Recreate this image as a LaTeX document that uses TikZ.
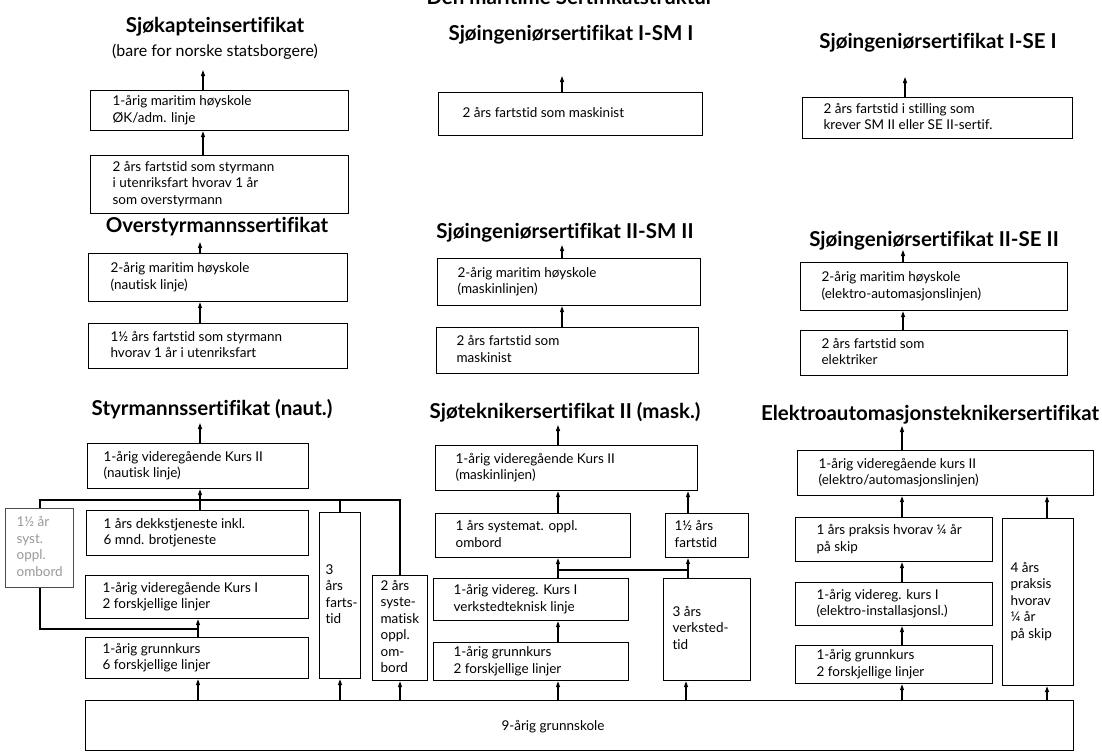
\documentclass[tikz,border=0pt]{standalone}
\usepackage{fontspec}
\setmainfont{Lato}[Ligatures={NoCommon}]
\usetikzlibrary{arrows.meta,calc}
\tikzset{
  box/.style={draw, line width=1.2pt, rectangle, inner xsep=0pt, inner ysep=0pt,
    font=\fontsize{13.5}{16.5}\selectfont},
  grbox/.style={box, draw=black!70, text=black!40},
  title/.style={font=\fontsize{20.5}{22}\selectfont\bfseries, anchor=base, inner sep=0pt},
  subtitle/.style={font=\fontsize{16}{18}\selectfont, anchor=base, inner sep=0pt},
  plain/.style={font=\fontsize{13.5}{16}\selectfont, inner sep=0pt},
  conn/.style={line width=1.2pt},
  arr/.style={conn, -{Triangle[length=6pt,width=4pt]}}
}
% [pad]{name}{x1}{y1}{x2}{y2}{text}
\newcommand\mybox[7][18]{%
  \pgfmathsetmacro\bw{#5-#3}\pgfmathsetmacro\bh{#6-#4}%
  \node[box, minimum width=\bw pt, minimum height=\bh pt, anchor=north west]
    (#2) at (#3pt,-#4pt)
    {\makebox[\bw pt][l]{\hspace*{#1pt}\begin{tabular}{@{}l@{}}#7\end{tabular}}};}
\begin{document}
\begin{tikzpicture}
\useasboundingbox (0,0) rectangle (1102pt,-753pt);
\fill[white] (0,0) rectangle (1102pt,-753pt);

% x positions of connectors
\coordinate (xa) at (203pt,0);
\coordinate (xb) at (200pt,0);
\coordinate (xc) at (198pt,0);
\coordinate (x40) at (40pt,0);
\coordinate (x340) at (340pt,0);
\coordinate (x400) at (400pt,0);
\coordinate (xm) at (562pt,0);
\coordinate (xn) at (558pt,0);
\coordinate (xo) at (688pt,0);
\coordinate (xp) at (686pt,0);
\coordinate (xr) at (905pt,0);
\coordinate (xs) at (903pt,0);
\coordinate (xt) at (902pt,0);
\coordinate (xu) at (1047pt,0);
\coordinate (hy) at (0,-500pt);
\coordinate (gy) at (0,-629pt);
\coordinate (my) at (0,-570pt);

% titles
\node[title] (top) at (570pt,-4pt) {Den maritime Sertifikatstruktur};
\node[title] (t1) at (215pt,-32pt) {Sjøkapteinsertifikat};
\node[subtitle] (t1b) at (215pt,-56pt) {(bare for norske statsborgere)};
\node[title] (t2) at (217pt,-232pt) {Overstyrmannssertifikat};
\node[title] (t3) at (212pt,-415pt) {Styrmannssertifikat (naut.)};
\node[title] (t4) at (571pt,-40pt) {Sjøingeniørsertifikat I-SM I};
\node[title] (t5) at (565pt,-238pt) {Sjøingeniørsertifikat II-SM II};
\node[title] (t6) at (565pt,-418pt) {Sjøteknikersertifikat II (mask.)};
\node[title] (t7) at (938pt,-48pt) {Sjøingeniørsertifikat I-SE I};
\node[title] (t8) at (934pt,-246pt) {Sjøingeniørsertifikat II-SE II};
\node[title] (t9) at (930pt,-420pt) {Elektroautomasjonsteknikersertifikat};

% left column
\mybox[22]{L1}{90}{90}{348}{130}{1-årig maritim høyskole\\ØK/adm. linje}
\mybox[22]{L2}{90}{155}{348}{213}{2 års fartstid som styrmann\\i utenriksfart hvorav 1 år\\som overstyrmann}
\mybox[22]{L3}{88}{253}{347}{301}{2-årig maritim høyskole\\(nautisk linje)}
\mybox[22]{L4}{88}{323}{347}{368}{1½ års fartstid som styrmann\\hvorav 1 år i utenriksfart}
\mybox[16]{L5}{87}{443}{308}{488}{1-årig videregående Kurs II\\(nautisk linje)}
\mybox[17]{L6}{86}{510}{308}{555}{1 års dekkstjeneste inkl.\\6 mnd. brotjeneste}
\mybox[17]{L7}{85}{575}{308}{618}{1-årig videregående Kurs I\\2 forskjellige linjer}
\mybox[17]{L8}{85}{637}{308}{678}{1-årig grunnkurs\\6 forskjellige linjer}
\node[grbox, minimum width=68pt, minimum height=79pt, anchor=north west]
  (L9) at (5pt,-508pt)
  {\makebox[68pt][l]{\hspace*{11pt}\begin{tabular}{@{}l@{}}1½ år\\syst.\\oppl.\\ombord\end{tabular}}};
\mybox[6]{L10}{319}{512}{360}{678}{3\\års\\farts-\\tid}
\mybox[8]{L11}{372}{575}{427}{680}{2 års\\syste-\\matisk\\oppl.\\om-\\bord}

% middle column
\mybox[24]{M1}{438}{92}{702}{135}{2 års fartstid som maskinist}
\mybox[20]{M2}{437}{258}{700}{305}{2-årig maritim høyskole\\(maskinlinjen)}
\mybox[20]{M3}{436}{327}{698}{373}{2 års fartstid som\\maskinist}
\mybox[20]{M4}{435}{445}{697}{490}{1-årig videregående Kurs II\\(maskinlinjen)}
\mybox[20]{M5}{435}{513}{630}{557}{1 års systemat. oppl.\\ombord}
\mybox[9]{M6}{665}{513}{748}{557}{1½ års\\fartstid}
\mybox[20]{M7}{433}{578}{628}{620}{1-årig videreg. Kurs I\\verkstedteknisk linje}
\mybox[20]{M8}{433}{642}{628}{680}{1-årig grunnkurs\\2 forskjellige linjer}
\mybox[9]{M9}{663}{578}{750}{680}{3 års\\verksted-\\tid}

% right column
\mybox[21]{R1}{802}{97}{1072}{138}{2 års fartstid i stilling som\\krever SM II eller SE II-sertif.}
\mybox[21]{R2}{800}{262}{1067}{310}{2-årig maritim høyskole\\(elektro-automasjonslinjen)}
\mybox[21]{R3}{800}{330}{1067}{375}{2 års fartstid som\\elektriker}
\mybox[21]{R4}{797}{450}{1093}{495}{1-årig videregående kurs II\\(elektro/automasjonslinjen)}
\mybox[21]{R5}{795}{517}{992}{561}{1 års praksis hvorav ¼ år\\på skip}
\mybox[21]{R6}{795}{582}{992}{625}{1-årig videreg. kurs I\\(elektro-installasjonsl.)}
\mybox[21]{R7}{795}{645}{992}{683}{1-årig grunnkurs\\2 forskjellige linjer}
\mybox[8]{R8}{1002}{518}{1073}{685}{4 års\\praksis\\hvorav\\¼ år\\på skip}

% bottom
\node[box, minimum width=988pt, minimum height=50pt, anchor=north west] (B) at (85pt,-700pt) {};
\node[plain] (Bt) at (553pt,-727pt) {9-årig grunnskole};

% ---- connectors: left
\draw[arr] (L1.north -| xa) -- ++(0,20pt);
\draw[arr] (L2.north -| xa) -- (L1.south -| xa);
\draw[arr] (L3.north -| xb) -- ++(0,11pt);
\draw[arr] (L4.north -| xb) -- (L3.south -| xb);
\draw[arr] (L5.north -| xb) -- ++(0,20pt);
\draw[arr] (L6.north -| xb) -- (L5.south -| xb);
\draw[conn] (L9.north -| x40) -- (x40 |- hy) -- (x400 |- hy) -- (L11.north -| x400);
\draw[conn] (L10.north -| x340) -- (x340 |- hy);
\draw[conn] (L9.south -| x40) -- (x40 |- gy) -- (xc |- gy);
\draw[arr] (L8.north -| xc) -- (L7.south -| xc);
\draw[arr] (B.north -| xc) -- (L8.south -| xc);
\draw[arr] (B.north -| x340) -- (L10.south -| x340);
\draw[arr] (B.north -| x400) -- (L11.south -| x400);

% ---- connectors: middle
\draw[arr] (M1.north -| xm) -- ++(0,16pt);
\draw[arr] (M2.north -| xm) -- ++(0,13pt);
\draw[arr] (M3.north -| xm) -- (M2.south -| xm);
\draw[arr] (M4.north -| xn) -- ++(0,20pt);
\draw[arr] (M5.north -| xn) -- (M4.south -| xn);
\draw[arr] (M6.north -| xo) -- (M4.south -| xo);
\draw[arr] (M7.north -| xn) -- (M5.south -| xn);
\draw[arr] (M9.north -| xo) -- (M6.south -| xo);
\draw[conn] (xn |- my) -- (xo |- my);
\draw[arr] (M8.north -| xn) -- (M7.south -| xn);
\draw[arr] (B.north -| xn) -- (M8.south -| xn);
\draw[arr] (B.north -| xp) -- (M9.south -| xp);

% ---- connectors: right
\draw[arr] (R1.north -| xr) -- ++(0,20pt);
\draw[arr] (R2.north -| xs) -- ++(0,12pt);
\draw[arr] (R3.north -| xs) -- (R2.south -| xs);
\draw[arr] (R4.north -| xt) -- ++(0,24pt);
\draw[arr] (R5.north -| xt) -- (R4.south -| xt);
\draw[arr] (R8.north -| xu) -- (R4.south -| xu);
\draw[arr] (R6.north -| xt) -- (R5.south -| xt);
\draw[arr] (R7.north -| xt) -- (R6.south -| xt);
\draw[arr] (B.north -| xt) -- (R7.south -| xt);
\draw[arr] (B.north -| xu) -- (R8.south -| xu);
\end{tikzpicture}
\end{document}
